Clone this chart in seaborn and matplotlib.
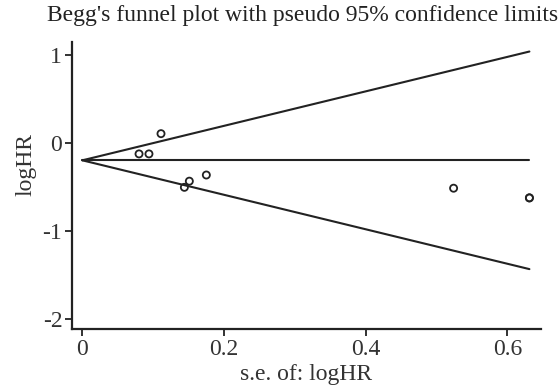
import numpy as np
import pandas as pd
import matplotlib
matplotlib.use("Agg")
import matplotlib.pyplot as plt
import seaborn as sns

# Data
se = [0.111, 0.080, 0.094, 0.151, 0.144, 0.175, 0.524, 0.631, 0.631]
loghr = [0.11, -0.12, -0.12, -0.43, -0.50, -0.36, -0.51, -0.62, -0.62]
pooled = -0.193
z = 1.96
xticks = [0, 0.2, 0.4, 0.6]
yticks = [-2, -1, 0, 1]

sns.set_theme(style="ticks")
plt.rcParams['font.family'] = ['Liberation Serif', 'DejaVu Serif']

df = pd.DataFrame({"se": se, "logHR": loghr})
se_max = max(se)
lim = pd.DataFrame({
    "se": [0, se_max, 0, se_max, 0, se_max],
    "val": [pooled, pooled, pooled, pooled + z * se_max, pooled, pooled - z * se_max],
    "which": ["c", "c", "u", "u", "l", "l"],
})

fig = plt.figure(figsize=(5.6, 3.87), dpi=100)
ax = fig.add_axes([0.1286, 0.150, 0.837, 0.741])

sns.lineplot(data=lim, x="se", y="val", units="which", estimator=None,
             color="#222222", linewidth=1.5, ax=ax, legend=False)
sns.scatterplot(data=df, x="se", y="logHR", marker="o", s=26,
                facecolor="none", edgecolor="#222222", linewidth=1.3, ax=ax, legend=False)

ax.set_xlim(-0.0146, 0.647)
ax.set_ylim(-2.11, 1.15)
ax.set_xticks(xticks)
ax.set_xticklabels(["0", "0.2", "0.4", "0.6"])
ax.set_yticks(yticks)
ax.set_yticklabels(["-2", "-1", "0", "1"])
ax.tick_params(axis="both", direction="out", length=5, width=1.3, color="#222222",
               labelsize=17, labelcolor="#333333", pad=2)
for s in ["top", "right"]:
    ax.spines[s].set_visible(False)
for s in ["left", "bottom"]:
    ax.spines[s].set_linewidth(1.6)
    ax.spines[s].set_color("#222222")

ax.set_xlabel("s.e. of: logHR", fontsize=17, color="#333333", labelpad=3)
ax.set_ylabel("logHR", fontsize=17, color="#333333")
ax.yaxis.set_label_coords(-0.075, 0.575)
fig.text(0.540, 0.961, "Begg's funnel plot with pseudo 95% confidence limits",
         ha="center", va="center", fontsize=17, color="#222222")

fig.savefig("out.png", dpi=100)
